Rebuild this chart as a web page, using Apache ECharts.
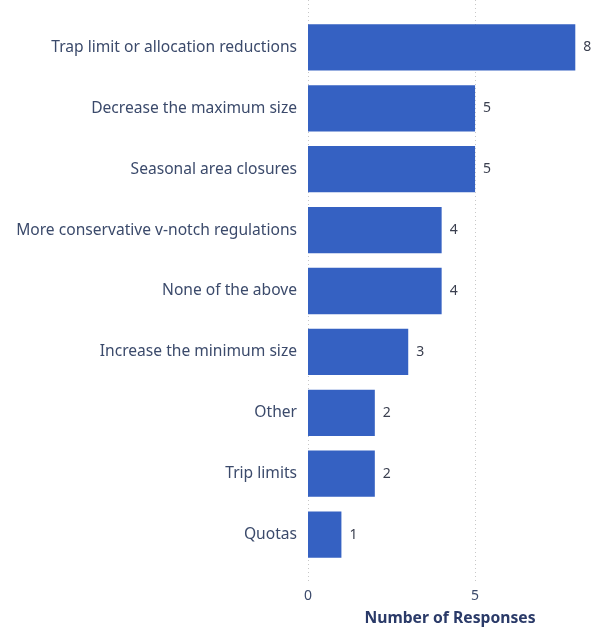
<!DOCTYPE html>
<html><head><meta charset="utf-8">
<script src="https://cdn.jsdelivr.net/npm/echarts@6/dist/echarts.min.js"></script>
<style>html,body{margin:0;padding:0;background:#fff}#c{width:594px;height:632px}</style>
</head><body><div id="c"></div>
<script>
const categories = ["Trap limit or allocation reductions","Decrease the maximum size","Seasonal area closures","More conservative v-notch regulations","None of the above","Increase the minimum size","Other","Trip limits","Quotas"];
const values = [8,5,5,4,4,3,2,2,1];
const xTicks = [0,5];
const axisTitle = "Number of Responses";

const chart = echarts.init(document.getElementById('c'), null, {renderer:'canvas'});
const font = "'Noto Sans', sans-serif";
const xMax = 8.5;
chart.setOption({
  animation:false,
  grid:[
    {left:308, right:2, top:17, bottom:67},
    {left:308, right:2, top:0, bottom:47}
  ],
  xAxis:[
    {gridIndex:0, type:'value', min:0, max:xMax, interval:5,
     axisLine:{show:false}, axisTick:{show:false}, splitLine:{show:false},
     axisLabel:{show:false}},
    {gridIndex:1, type:'value', min:0, max:xMax, interval:5,
     axisLine:{show:false}, axisTick:{show:false},
     splitLine:{show:true, showMaxLine:false, lineStyle:{type:[1,3], color:'#c8c8c8', width:1}},
     axisLabel:{show:true, margin:5, color:'#3b4a6b', fontSize:14, fontFamily:font, showMaxLabel:false,
       formatter:v => xTicks.includes(v) ? String(v) : ''},
     name:axisTitle, nameLocation:'middle', nameGap:27,
     nameTextStyle:{color:'#2a3a68', fontWeight:'bold', fontSize:15.7, fontFamily:font}}
  ],
  yAxis:[
    {gridIndex:0, type:'category', data:categories, inverse:true,
     axisLine:{show:false}, axisTick:{show:false},
     axisLabel:{color:'#3b4a6b', fontSize:15.6, fontFamily:font, margin:11}},
    {gridIndex:1, type:'category', data:[], show:false}
  ],
  series:[{
    type:'bar', xAxisIndex:0, yAxisIndex:0, data:values,
    barCategoryGap:'24%',
    itemStyle:{color:'#3561c2'},
    label:{show:true, position:'right', distance:8, color:'#3a3f4f', fontSize:14, fontFamily:font}
  }]
});
</script></body></html>
